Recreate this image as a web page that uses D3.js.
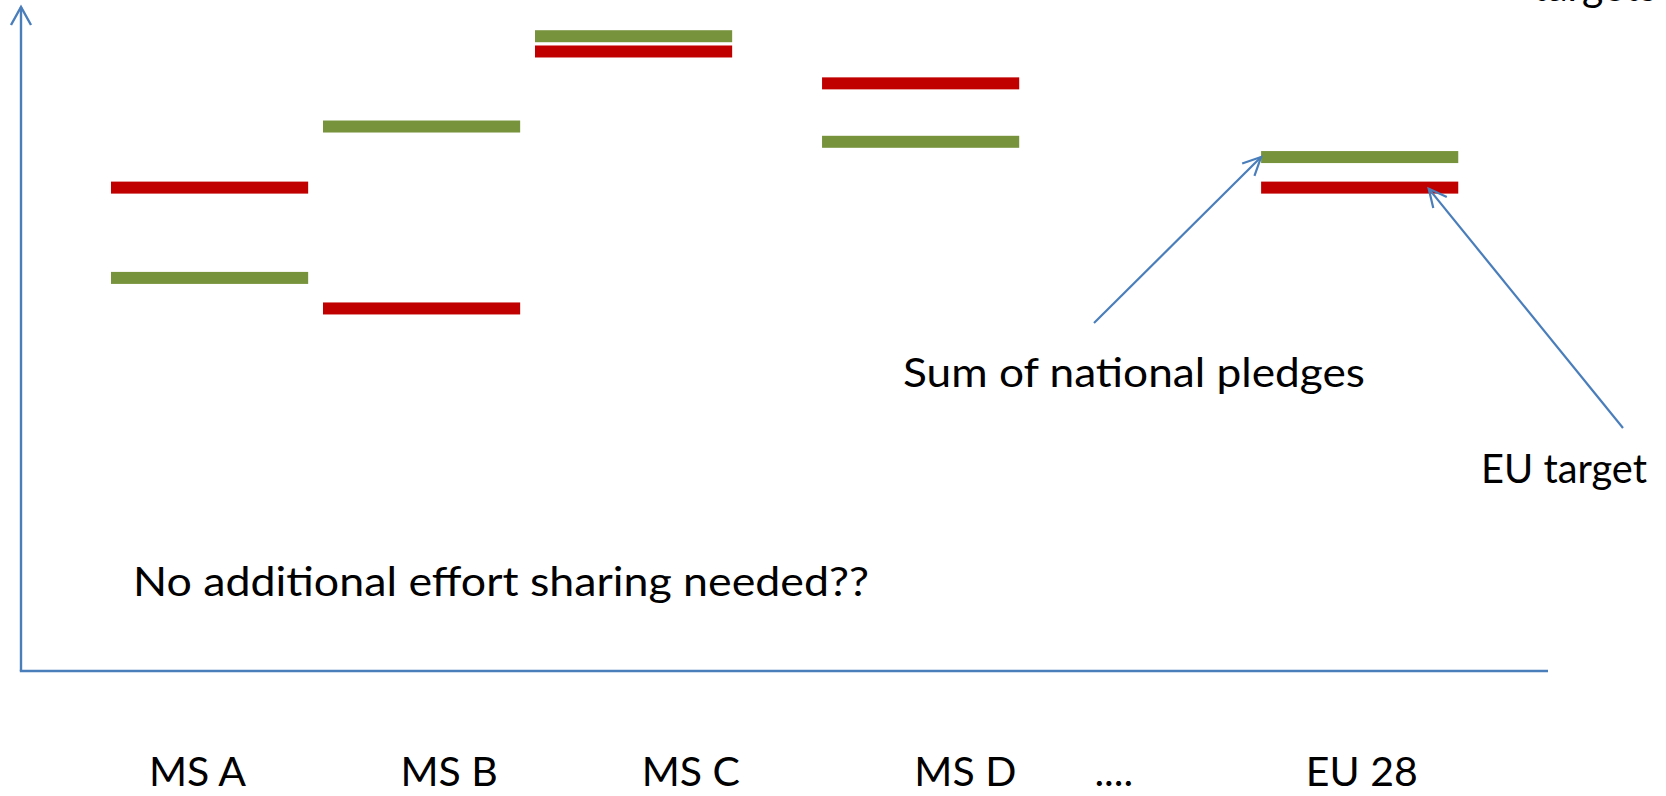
<!DOCTYPE html>
<html>
<head>
<meta charset="utf-8">
<script src="https://cdn.jsdelivr.net/npm/d3@7"></script>
<style>
  html, body { margin: 0; padding: 0; background: #ffffff; overflow: hidden; }
  svg { display: block; }
  text { font-family: Lato, "Open Sans", "DejaVu Sans", sans-serif; fill: #000000; }
</style>
</head>
<body>
<svg id="chart" width="1666" height="796"></svg>
<script>
// Member states and the EU total
const categories = ["MS A", "MS B", "MS C", "MS D", "EU 28"];
// Sum of national pledges (green) and EU target (red), arbitrary index units
const pledges = [59.2, 82.0, 95.6, 79.7, 77.4];
const targets = [72.8, 54.6, 93.3, 88.5, 72.8];
// Category labels along the bottom, including the ellipsis
const axisLabels = ["MS A", "MS B", "MS C", "MS D", "....", "EU 28"];

// Slide layout: slot offsets of each bar group and of each label
const barSlots = { "MS A": 0, "MS B": 1, "MS C": 2, "MS D": 3.354, "EU 28": 5.425 };
const labelSlots = { "MS A": 0.408, "MS B": 1.595, "MS C": 2.735, "MS D": 4.03, "....": 4.73, "EU 28": 5.90 };
const barSpan = 0.93;

const svg = d3.select("#chart");
const axisColor = "#4a7ebb";
const green = "#77933c";
const red = "#c00000";
const fontSize = 41;

const originX = 21, originY = 671;
const x = d3.scaleLinear().domain([0, 1]).range([111, 323]);
const y = d3.scaleLinear().domain([0, 100]).range([originY, 7]);
const barH = 12;

// Axes: vertical arrow and horizontal baseline
svg.append("line")
  .attr("x1", originX).attr("y1", originY)
  .attr("x2", originX).attr("y2", y(100))
  .attr("stroke", axisColor).attr("stroke-width", 2.4);
svg.append("path")
  .attr("d", `M${originX - 10},${y(100) + 18} L${originX},${y(100)} L${originX + 10},${y(100) + 18}`)
  .attr("fill", "none").attr("stroke", axisColor).attr("stroke-width", 2.4);
svg.append("line")
  .attr("x1", originX - 1.2).attr("y1", originY)
  .attr("x2", 1548).attr("y2", originY)
  .attr("stroke", axisColor).attr("stroke-width", 2.4);

// Horizontal level marks
const rows = categories.map((c, i) => ({ c, pledge: pledges[i], target: targets[i] }));
const wPx = x(barSpan) - x(0);

svg.selectAll("rect.target").data(rows).enter().append("rect")
  .attr("class", "target")
  .attr("x", d => x(barSlots[d.c]))
  .attr("y", d => y(d.target) - barH / 2)
  .attr("width", wPx).attr("height", barH)
  .attr("fill", red);

svg.selectAll("rect.pledge").data(rows).enter().append("rect")
  .attr("class", "pledge")
  .attr("x", d => x(barSlots[d.c]))
  .attr("y", d => y(d.pledge) - barH / 2)
  .attr("width", wPx).attr("height", barH)
  .attr("fill", green);

// Category labels
svg.selectAll("text.cat").data(axisLabels).enter().append("text")
  .attr("class", "cat")
  .attr("x", d => x(labelSlots[d]))
  .attr("y", 786)
  .attr("text-anchor", "middle")
  .attr("font-size", fontSize)
  .text(d => d);

// Annotation arrows
function arrow(x1, y1, x2, y2) {
  const a = Math.atan2(y2 - y1, x2 - x1);
  const L = 20, spread = 0.45;
  const p1 = [x2 - L * Math.cos(a - spread), y2 - L * Math.sin(a - spread)];
  const p2 = [x2 - L * Math.cos(a + spread), y2 - L * Math.sin(a + spread)];
  svg.append("line")
    .attr("x1", x1).attr("y1", y1).attr("x2", x2).attr("y2", y2)
    .attr("stroke", axisColor).attr("stroke-width", 2.2);
  svg.append("path")
    .attr("d", `M${p1[0]},${p1[1]} L${x2},${y2} L${p2[0]},${p2[1]}`)
    .attr("fill", "none").attr("stroke", axisColor).attr("stroke-width", 2.2);
}
const eu = rows[4];
const euLeft = x(barSlots["EU 28"]);
arrow(1094, 323, euLeft, y(eu.pledge));
arrow(1623, 428, euLeft + wPx * 0.85, y(eu.target) + 1);

// Annotation texts
svg.append("text").attr("x", 903).attr("y", 387).attr("font-size", fontSize)
  .attr("textLength", 462).attr("lengthAdjust", "spacingAndGlyphs")
  .text("Sum of national pledges");
svg.append("text").attr("x", 1481).attr("y", 483).attr("font-size", fontSize)
  .attr("textLength", 166).attr("lengthAdjust", "spacingAndGlyphs")
  .text("EU target");
svg.append("text").attr("x", 133).attr("y", 596).attr("font-size", fontSize)
  .attr("textLength", 736).attr("lengthAdjust", "spacingAndGlyphs")
  .text("No additional effort sharing needed??");
// Heading that runs off the top edge
svg.append("text").attr("x", 1657).attr("y", 1).attr("font-size", fontSize)
  .attr("text-anchor", "end")
  .text("targets");
</script>
</body>
</html>
